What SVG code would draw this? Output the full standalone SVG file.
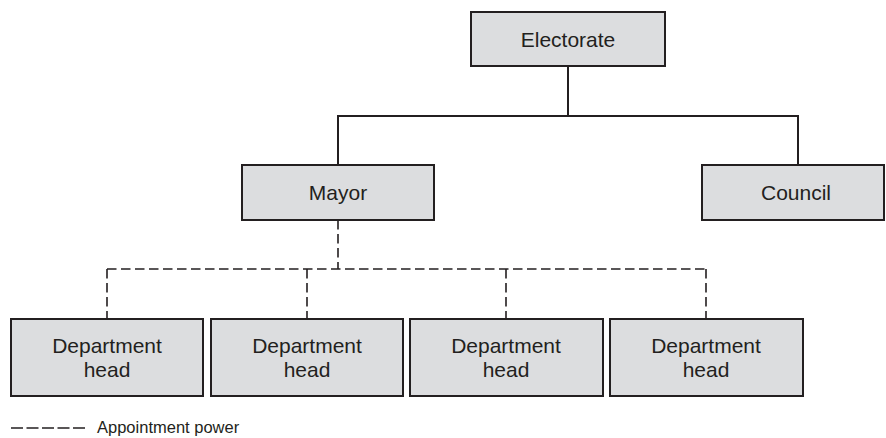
<svg xmlns="http://www.w3.org/2000/svg" width="886" height="438" viewBox="0 0 886 438">
  <style>
    .box { fill: #dcdddf; stroke: #231f20; stroke-width: 2; }
    .label { font-family: "Liberation Sans", Arial, sans-serif; font-size: 21px; fill: #231f20; text-anchor: middle; }
    .solid { stroke: #231f20; stroke-width: 2; fill: none; }
    .dashed { stroke: #231f20; stroke-width: 1.6; fill: none; stroke-dasharray: 9.5 4.5; }
    .legend { font-family: "Liberation Sans", Arial, sans-serif; font-size: 16.5px; fill: #231f20; }
  </style>
  <rect width="886" height="438" fill="#ffffff"/>

  <!-- connectors -->
  <g id="connectors">
    <path class="solid" d="M568 66 V116 M338 165 V116 H798 V165"/>
    <path class="dashed" d="M338 220 V269"/>
    <path class="dashed" d="M107 269 H706"/>
    <path class="dashed" d="M107 269 V319"/>
    <path class="dashed" d="M307 269 V319"/>
    <path class="dashed" d="M506 269 V319"/>
    <path class="dashed" d="M706 269 V319"/>
  </g>

  <g id="electorate">
    <rect class="box" x="471" y="12" width="194" height="54"/>
    <text class="label" x="568" y="46.5">Electorate</text>
  </g>

  <g id="mayor">
    <rect class="box" x="242" y="165" width="192" height="55"/>
    <text class="label" x="338" y="200">Mayor</text>
  </g>

  <g id="council">
    <rect class="box" x="702" y="165" width="182" height="55"/>
    <text class="label" x="796" y="200">Council</text>
  </g>

  <g id="dept1">
    <rect class="box" x="11" y="319" width="192" height="77"/>
    <text class="label" x="107" y="353">Department</text>
    <text class="label" x="107" y="377">head</text>
  </g>
  <g id="dept2">
    <rect class="box" x="211" y="319" width="192" height="77"/>
    <text class="label" x="307" y="353">Department</text>
    <text class="label" x="307" y="377">head</text>
  </g>
  <g id="dept3">
    <rect class="box" x="410" y="319" width="193" height="77"/>
    <text class="label" x="506" y="353">Department</text>
    <text class="label" x="506" y="377">head</text>
  </g>
  <g id="dept4">
    <rect class="box" x="610" y="319" width="193" height="77"/>
    <text class="label" x="706" y="353">Department</text>
    <text class="label" x="706" y="377">head</text>
  </g>

  <!-- key -->
  <g id="legend">
    <line x1="11" y1="428" x2="87" y2="428" stroke="#231f20" stroke-width="1.5" stroke-dasharray="12 3.5"/>
    <text class="legend" x="97" y="433">Appointment power</text>
  </g>
</svg>
